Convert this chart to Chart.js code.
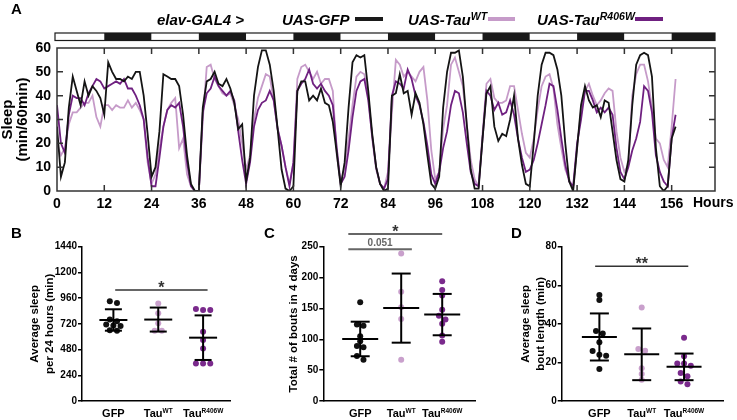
<!DOCTYPE html>
<html><head><meta charset="utf-8">
<script src="https://cdn.jsdelivr.net/npm/chart.js@4.4.1/dist/chart.umd.min.js"></script>
<style>
body{margin:0;background:#fff;width:737px;height:420px;overflow:hidden;position:relative;font-family:"Liberation Sans",Arial,sans-serif;}
canvas{position:absolute;}
.t{position:absolute;white-space:nowrap;font-weight:bold;line-height:15px;color:#000;}
.lg{font-style:italic;font-size:15px;}
.lg sup{font-size:10.5px;position:relative;top:-1px;vertical-align:top;line-height:10px;}
.sw{position:absolute;height:4px;top:17px;}
.pl{font-size:15px;}
</style></head>
<body>
<canvas id="cA" width="737" height="215" style="left:0;top:0"></canvas>
<canvas id="cB" width="245" height="205" style="left:0;top:215px"></canvas>
<canvas id="cC" width="245" height="205" style="left:245px;top:215px"></canvas>
<canvas id="cD" width="247" height="205" style="left:490px;top:215px"></canvas>

<div class="t pl" style="left:11px;top:1px">A</div>
<div class="t pl" style="left:11px;top:225px">B</div>
<div class="t pl" style="left:264px;top:225px">C</div>
<div class="t pl" style="left:511px;top:225px">D</div>

<div class="t lg" style="left:157px;top:12px">elav-GAL4 &gt;</div>
<div class="t lg" style="left:282px;top:12px">UAS-GFP</div>
<div class="sw" style="left:355px;width:28px;background:#1a1a1a"></div>
<div class="t lg" style="left:408px;top:12px">UAS-Tau<sup>WT</sup></div>
<div class="sw" style="left:488px;width:27px;background:#c69bc9"></div>
<div class="t lg" style="left:537px;top:12px">UAS-Tau<sup>R406W</sup></div>
<div class="sw" style="left:635px;width:28px;background:#6f2080"></div>

<script>
// ---------- Panel A data ----------
const hours = Array.from({length: 158}, (_, i) => i);
const phases = ['light','dark','light','dark','light','dark','light','dark','light','dark','light','dark','light','dark'];
const phaseHours = 12;
const hourTicks = [0,12,24,36,48,60,72,84,96,108,120,132,144,156];
const sleepGFP = [27,6,12,35,48,42,36,46,40,44,42,39,32,54,50,47,47,46,48,47,50,50,40,24,6,10,25,49,48,47,47,44,32,15,3,0,0,35,46,47,50,45,44,47,43,37,26,28,4,14,40,52,59,59,53,42,26,9,1,0,2,42,46,46,38,40,38,43,37,36,29,16,2,12,35,54,57,56,57,42,24,10,3,0,1,40,41,49,41,42,32,41,37,28,15,3,1,6,35,50,58,58,59,48,28,9,1,1,22,41,44,27,21,24,23,30,40,22,11,3,2,20,40,53,58,58,57,51,40,20,4,0,18,36,44,38,35,36,31,38,37,25,13,5,4,13,36,53,57,58,57,48,18,2,0,2,22,27];
const sleepTauWT = [20,15,18,28,33,33,35,37,37,40,31,27,36,36,34,36,35,35,38,35,37,34,30,12,3,7,18,27,34,37,39,18,22,7,2,0,0,30,52,53,47,44,41,40,41,36,30,20,9,15,30,39,44,49,48,38,26,19,10,3,12,47,52,53,50,47,50,45,47,47,42,15,3,10,22,36,48,50,49,40,22,9,3,1,8,33,55,53,48,50,48,46,50,52,38,17,5,8,26,36,53,56,50,44,28,13,5,2,24,45,47,39,37,37,38,44,44,34,24,16,14,22,34,44,48,49,43,28,18,9,5,1,18,34,42,45,40,36,38,41,43,42,25,14,8,11,40,49,53,53,46,35,22,20,13,10,27,47];
const sleepTauR406W = [36,20,16,32,40,39,39,36,41,44,47,46,43,44,45,46,45,47,43,43,40,36,30,14,2,2,14,27,34,36,35,37,27,12,2,0,0,33,41,43,48,44,42,40,42,38,25,13,3,12,27,34,37,38,42,38,26,19,10,2,12,42,45,47,51,45,43,45,42,40,36,18,3,6,17,31,42,46,47,38,23,10,3,1,5,40,46,45,43,51,47,40,36,29,19,7,3,8,18,25,36,42,41,33,20,8,3,2,22,42,40,34,37,32,33,38,32,22,14,8,9,13,20,28,36,45,44,34,22,11,4,2,20,30,42,42,38,33,35,33,35,32,18,8,5,10,17,22,29,44,42,33,15,8,4,2,22,32];

// ---------- Panels B-D data ----------
const groups = ['GFP', 'TauWT', 'TauR406W'];
const groupBase = ['GFP', 'Tau', 'Tau'];
const groupSup = ['', 'WT', 'R406W'];
const groupColors = ['#111111', '#c9a0cc', '#7a2a8c'];

const sleepPerDayGFP = [930, 915, 760, 745, 715, 705, 700, 660, 655];
const sleepPerDayTauWT = [911, 818, 725, 656, 656];
const sleepPerDayTauR406W = [858, 849, 849, 647, 569, 491, 351, 351, 351];
const sleepPerDayMean = [756, 760, 591];
const sleepPerDaySD = [100, 112, 208];

const boutsGFP = [160, 124, 122, 105, 97, 89, 87, 73, 67];
const boutsTauWT = [239, 177, 152, 133, 67];
const boutsTauR406W = [194, 180, 171, 148, 138, 132, 125, 106, 96];
const boutsMean = [100.5, 150.5, 140];
const boutsSD = [28, 56, 33.5];

const boutLenGFP = [55, 52.4, 36.3, 35, 30.5, 25.9, 24, 23.5, 16.6];
const boutLenTauWT = [48.5, 27, 26, 17, 14, 11];
const boutLenTauR406W = [32.8, 23.2, 19.4, 19.4, 18.3, 14.5, 12.8, 10.1, 8.7];
const boutLenMean = [33.2, 24.2, 17.7];
const boutLenSD = [12.2, 13.4, 6.9];

// ---------- common ----------
Chart.defaults.font.family = '"Liberation Sans", Arial, sans-serif';
Chart.defaults.color = '#000';
const FONT = '"Liberation Sans", Arial, sans-serif';

// ---------- Panel A ----------
const frameA = {
  id: 'frameA',
  afterDraw(chart) {
    const {ctx, chartArea: a, scales: {x, y}} = chart;
    ctx.save();
    const barTop = a.top - 15, barH = 7.5;
    phases.forEach((p, i) => {
      const s = i * phaseHours;
      if (s >= x.max) return;
      const x0 = x.getPixelForValue(s) - (i === 0 ? 2 : 0);
      const x1 = x.getPixelForValue(Math.min(s + phaseHours, x.max));
      ctx.fillStyle = p === 'dark' ? '#1a1a1a' : '#ffffff';
      ctx.fillRect(x0, barTop, x1 - x0, barH);
    });
    ctx.strokeStyle = '#1a1a1a'; ctx.lineWidth = 1.2;
    ctx.strokeRect(x.getPixelForValue(0) - 2, barTop, x.getPixelForValue(x.max) - x.getPixelForValue(0) + 2, barH);
    ctx.strokeStyle = '#333'; ctx.lineWidth = 1.5;
    ctx.strokeRect(a.left, a.top, a.right - a.left, a.bottom - a.top);
    ctx.beginPath();
    hourTicks.forEach(h => {
      if (h === 0) return;
      const px = x.getPixelForValue(h);
      ctx.moveTo(px, a.top); ctx.lineTo(px, a.top + 6);
      ctx.moveTo(px, a.bottom); ctx.lineTo(px, a.bottom - 6);
    });
    y.ticks.forEach(t => {
      if (t.value === y.min || t.value === y.max) return;
      const py = y.getPixelForValue(t.value);
      ctx.moveTo(a.left, py); ctx.lineTo(a.left + 6, py);
      ctx.moveTo(a.right, py); ctx.lineTo(a.right - 6, py);
    });
    ctx.stroke();
    ctx.fillStyle = '#000';
    ctx.font = 'bold 14px ' + FONT;
    ctx.textBaseline = 'middle'; ctx.textAlign = 'left';
    ctx.fillText('Hours', a.right - 22, a.bottom + 12);
    ctx.restore();
  }
};

const toXY = arr => arr.map((v, i) => ({x: hours[i], y: v}));
new Chart(document.getElementById('cA'), {
  type: 'line',
  data: {
    datasets: [
      {label: 'UAS-GFP', data: toXY(sleepGFP), borderColor: '#141414', borderWidth: 1.8, pointRadius: 0, tension: 0, order: 0},
      {label: 'UAS-TauWT', data: toXY(sleepTauWT), borderColor: '#c69bc9', borderWidth: 1.8, pointRadius: 0, tension: 0, order: 2},
      {label: 'UAS-TauR406W', data: toXY(sleepTauR406W), borderColor: '#6f2080', borderWidth: 1.8, pointRadius: 0, tension: 0, order: 1}
    ]
  },
  options: {
    responsive: false, animation: false, events: [],
    layout: {padding: {top: 48, right: 22, left: 0, bottom: 0}},
    plugins: {legend: {display: false}, tooltip: {enabled: false}},
    scales: {
      x: {
        type: 'linear', min: 0, max: 167,
        afterBuildTicks: s => { s.ticks = hourTicks.map(v => ({value: v})); },
        ticks: {font: {size: 14, weight: 'bold'}, padding: 5, maxRotation: 0, autoSkip: false, callback: v => String(v)},
        grid: {display: false, drawTicks: false}, border: {display: false},
        afterFit: s => { s.height = 24; }
      },
      y: {
        min: 0, max: 60,
        ticks: {stepSize: 10, font: {size: 14, weight: 'bold'}, padding: 6, callback: v => String(v)},
        grid: {display: false, drawTicks: false}, border: {display: false},
        title: {display: true, text: ['Sleep', '(min/60min)'], font: {size: 15, weight: 'bold', lineHeight: 1.0}, padding: {top: 0, bottom: 0}},
        afterFit: s => { s.width = 57; }
      }
    }
  },
  plugins: [frameA]
});

// ---------- Panels B-D ----------
function swarm(values, tol, step) {
  const idx = values.map((v, i) => i).sort((a, b) => values[b] - values[a]);
  const off = new Array(values.length).fill(0);
  let g = [];
  const flush = () => { g.forEach((k, n) => { off[k] = (n - (g.length - 1) / 2) * step; }); g = []; };
  idx.forEach(k => { if (g.length && values[g[0]] - values[k] > tol) flush(); g.push(k); });
  flush();
  return off;
}

function statsPlugin(cfg) {
  return {
    id: 'stats',
    afterDatasetsDraw(chart) {
      const {ctx, chartArea: a, scales: {x, y}} = chart;
      ctx.save();
      const seg = (x0, y0, x1, y1) => { ctx.beginPath(); ctx.moveTo(x0, y0); ctx.lineTo(x1, y1); ctx.stroke(); };
      ctx.strokeStyle = '#000'; ctx.lineWidth = 2;
      cfg.means.forEach((m, i) => {
        const cx = x.getPixelForValue(i);
        const ym = y.getPixelForValue(m);
        const yt = y.getPixelForValue(m + cfg.sds[i]);
        const yb = y.getPixelForValue(m - cfg.sds[i]);
        seg(cx - cfg.meanHW, ym, cx + cfg.meanHW, ym);
        seg(cx, yt, cx, yb);
        seg(cx - cfg.capHW, yt, cx + cfg.capHW, yt);
        seg(cx - cfg.capHW, yb, cx + cfg.capHW, yb);
      });
      cfg.sig.forEach(s => {
        const x0 = x.getPixelForValue(s.x1), x1 = x.getPixelForValue(s.x2), py = y.getPixelForValue(s.y);
        ctx.strokeStyle = s.color; ctx.lineWidth = s.lw;
        seg(x0, py, x1, py);
        ctx.fillStyle = s.color;
        ctx.font = 'bold ' + s.size + 'px ' + FONT;
        ctx.textAlign = 'center'; ctx.textBaseline = 'alphabetic';
        ctx.fillText(s.text, (x0 + x1) / 2, py + s.dy);
      });
      ctx.fillStyle = '#000'; ctx.textAlign = 'left'; ctx.textBaseline = 'alphabetic';
      groupBase.forEach((b, i) => {
        const cx = x.getPixelForValue(i);
        ctx.font = 'bold 11px ' + FONT;
        const wb = ctx.measureText(b).width;
        ctx.font = 'bold 6.5px ' + FONT;
        const ws = groupSup[i] ? ctx.measureText(groupSup[i]).width : 0;
        const x0 = cx - (wb + ws) / 2;
        const base = a.bottom + 16;
        ctx.font = 'bold 11px ' + FONT;
        ctx.fillText(b, x0, base);
        if (groupSup[i]) { ctx.font = 'bold 6.5px ' + FONT; ctx.fillText(groupSup[i], x0 + wb, base - 4.5); }
      });
      ctx.restore();
    }
  };
}

function dotChart(id, cfg) {
  const datasets = cfg.values.map((vals, i) => {
    const off = swarm(vals, cfg.yMax * 0.03, 0.16);
    return {
      data: vals.map((v, j) => ({x: i + off[j], y: v})),
      backgroundColor: groupColors[i], borderColor: groupColors[i],
      pointRadius: 3, pointBorderWidth: 0
    };
  });
  new Chart(document.getElementById(id), {
    type: 'scatter',
    data: {datasets},
    options: {
      responsive: false, animation: false, events: [],
      layout: {padding: {top: 31.7, right: cfg.padRight, bottom: 0, left: 0}},
      plugins: {legend: {display: false}, tooltip: {enabled: false}},
      scales: {
        x: {
          type: 'linear', min: cfg.xMin, max: cfg.xMax,
          ticks: {display: false}, grid: {display: false},
          border: {display: true, color: '#000', width: 1.5},
          afterFit: s => { s.height = 19; }
        },
        y: {
          min: 0, max: cfg.yMax,
          ticks: {stepSize: cfg.yStep, font: {size: 10, weight: 'bold'}, padding: 1, callback: v => String(v)},
          grid: {drawOnChartArea: false, drawTicks: true, tickLength: 4, color: '#000', lineWidth: 1.5},
          border: {display: true, color: '#000', width: 1.5},
          title: {display: true, text: cfg.title, font: {size: 11.5, weight: 'bold', lineHeight: 1.3}, padding: {top: cfg.titlePad, bottom: 0}},
          afterFit: s => { s.width = cfg.yWidth; }
        }
      }
    },
    plugins: [statsPlugin(cfg)]
  });
}

dotChart('cB', {
  values: [sleepPerDayGFP, sleepPerDayTauWT, sleepPerDayTauR406W],
  means: sleepPerDayMean, sds: sleepPerDaySD,
  yMax: 1440, yStep: 240, xMin: -0.7, xMax: 2.6,
  yWidth: 82, padRight: 15, titlePad: 27,
  title: ['Average sleep', 'per 24 hours (min)'],
  meanHW: 14, capHW: 8.5,
  sig: [{x1: 0.04, x2: 2.1, y: 1036, text: '*', color: '#333', lw: 1.5, size: 16, dy: 3}]
});

dotChart('cC', {
  values: [boutsGFP, boutsTauWT, boutsTauR406W],
  means: boutsMean, sds: boutsSD,
  yMax: 250, yStep: 50, xMin: -0.9, xMax: 2.8,
  yWidth: 78.3, padRight: 15, titlePad: 41.5,
  title: 'Total # of bouts in 4 days',
  meanHW: 18, capHW: 9.5,
  sig: [
    {x1: -0.29, x2: 2.0, y: 270.5, text: '*', color: '#333', lw: 1.5, size: 16, dy: 3},
    {x1: -0.29, x2: 1.26, y: 245.8, text: '0.051', color: '#666', lw: 2, size: 10, dy: -3}
  ]
});

dotChart('cD', {
  values: [boutLenGFP, boutLenTauWT, boutLenTauR406W],
  means: boutLenMean, sds: boutLenSD,
  yMax: 80, yStep: 20, xMin: -0.89, xMax: 2.92,
  yWidth: 71.7, padRight: 14, titlePad: 28,
  title: ['Average sleep', 'bout length (min)'],
  meanHW: 17.5, capHW: 9.5,
  sig: [{x1: -0.1, x2: 2.1, y: 69.9, text: '**', color: '#333', lw: 1.5, size: 16, dy: 3}]
});
</script>
</body></html>
